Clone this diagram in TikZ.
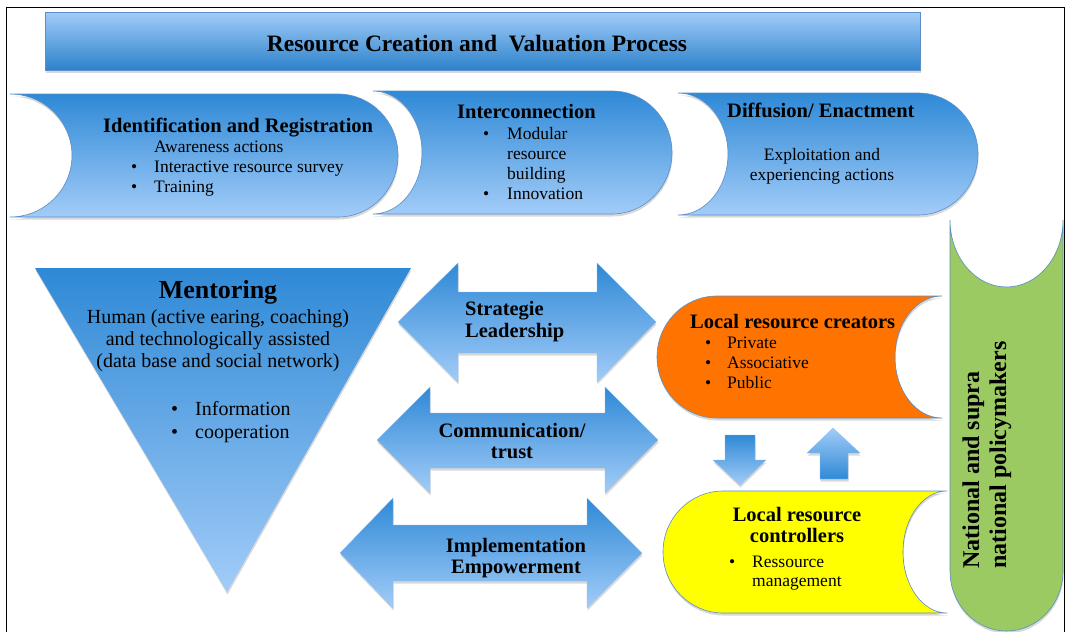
\documentclass[tikz,border=0pt]{standalone}
\usepackage{fontspec}
\setmainfont{Liberation Serif}
\usetikzlibrary{shadows}
\definecolor{bdark}{RGB}{47,137,214}
\definecolor{blight}{RGB}{162,204,248}
\definecolor{bline}{RGB}{91,142,200}
\definecolor{orng}{RGB}{255,115,0}
\definecolor{yel}{RGB}{255,255,0}
\definecolor{grn}{RGB}{155,201,98}
\tikzset{
  shd/.style={drop shadow={shadow xshift=0.5pt, shadow yshift=-2.5pt, opacity=0.3}},
  blueshape/.style={top color=bdark, bottom color=blight, draw=bline, line width=0.6pt, shd},
  titleshape/.style={top color=blight, bottom color=bdark!95!black, draw=bline, line width=0.4pt, shd},
  arrowshape/.style={top color=bdark, bottom color=blight, draw=blight!80!bdark, line width=0.3pt, shd},
  uparrowshape/.style={top color=blight, bottom color=bdark, draw=blight!80!bdark, line width=0.3pt, shd},
  orngshape/.style={fill=orng, draw=bline, line width=0.6pt, shd},
  yelshape/.style={fill=yel, draw=bline, line width=0.6pt, shd},
  grnshape/.style={fill=grn, draw=bline, line width=0.6pt, shd},
  frameline/.style={draw=black, line width=1pt},
  head/.style={font=\bfseries\fontsize{20.5}{24}\selectfont, inner sep=0pt, anchor=base west},
  item/.style={font=\fontsize{17.5}{20}\selectfont, inner sep=0pt, anchor=base west},
  mitem/.style={font=\fontsize{20}{23}\selectfont, inner sep=0pt, anchor=base west},
  mbody/.style={font=\fontsize{20}{23}\selectfont, inner sep=0pt, anchor=base},
  chead/.style={font=\bfseries\fontsize{20.5}{24}\selectfont, inner sep=0pt, anchor=base},
  citem/.style={font=\fontsize{17.5}{20}\selectfont, inner sep=0pt, anchor=base},
  vtext/.style={font=\bfseries\fontsize{24}{28}\selectfont, inner sep=0pt, anchor=base west, rotate=90},
}
\begin{document}
\begin{tikzpicture}[x=1pt,y=1pt]
\useasboundingbox (0,0) rectangle (1066,-632);
\fill[white] (0,0) rectangle (1066,-632);
% frame
\draw[frameline] (6,-632) -- (6,-7) -- (1064,-7) -- (1064,-632);

% title bar
\path[titleshape] (45,-12) rectangle (920,-70);
\node[font=\bfseries\fontsize{23.5}{26}\selectfont, inner sep=0pt, anchor=base] (title) at (477,-51) {Resource Creation and\ \ Valuation Process};

% top row shapes
\path[blueshape] (10,-94) -- (338,-94) arc[start angle=90,end angle=-90,x radius=60,y radius=61.5]
  -- (10,-217) arc[start angle=-90,end angle=90,x radius=62,y radius=61.5] -- cycle;
\path[blueshape] (373,-91) -- (612,-91) arc[start angle=90,end angle=-90,x radius=60,y radius=61.5]
  -- (373,-214) arc[start angle=-90,end angle=90,x radius=49,y radius=61.5] -- cycle;
\path[blueshape] (678,-93) -- (918,-93) arc[start angle=90,end angle=-90,x radius=60,y radius=61]
  -- (678,-215) arc[start angle=-90,end angle=90,x radius=50,y radius=61] -- cycle;

% shape 1 text
\node[head] (idh) at (103,-132) {Identification and Registration};
\node[item] (id1) at (154,-152) {Awareness actions};
\node[item] (idb2) at (131,-172) {\textbullet};
\node[item] (id2) at (154,-172) {Interactive resource survey};
\node[item] (idb3) at (131,-192) {\textbullet};
\node[item] (id3) at (154,-192) {Training};

% shape 2 text
\node[head] (ich) at (457,-118) {Interconnection};
\node[item] (icb1) at (483,-139) {\textbullet};
\node[item] (ic1) at (507,-139) {Modular};
\node[item] (ic2) at (507,-159) {resource};
\node[item] (ic3) at (507,-179) {building};
\node[item] (icb4) at (483,-199) {\textbullet};
\node[item] (ic4) at (507,-199) {Innovation};

% shape 3 text
\node[head] (dfh) at (727,-117) {Diffusion/ Enactment};
\node[citem] (df1) at (822,-160) {Exploitation and};
\node[citem] (df2) at (822,-180) {experiencing actions};

% mentoring triangle
\path[blueshape, draw=none] (35,-268) -- (411,-268) -- (227,-592) -- cycle;
\node[font=\bfseries\fontsize{26}{30}\selectfont, inner sep=0pt, anchor=base] (mh) at (218,-298) {Mentoring};
\node[mbody] (m1) at (218,-323) {Human (active earing, coaching)};
\node[mbody] (m2) at (218,-345) {and technologically assisted};
\node[mbody] (m3) at (218,-367) {(data base and social network)};
\node[mitem] (mb1) at (171,-415) {\textbullet};
\node[mitem] (mi1) at (195,-415) {Information};
\node[mitem] (mb2) at (171,-438) {\textbullet};
\node[mitem] (mi2) at (195,-438) {cooperation};

% double arrows
\path[arrowshape] (398,-322) -- (458,-263) -- (458,-292) -- (597,-292) -- (597,-263) -- (656,-322)
  -- (597,-382) -- (597,-353) -- (458,-353) -- (458,-382) -- cycle;
\node[head] (a1a) at (465,-315) {Strategie};
\node[head] (a1b) at (465,-337) {Leadership};

\path[arrowshape] (377,-440) -- (430,-387) -- (430,-413) -- (605,-413) -- (605,-387) -- (658,-440)
  -- (605,-493) -- (605,-468) -- (430,-468) -- (430,-493) -- cycle;
\node[chead] (a2a) at (512,-437) {Communication/};
\node[chead] (a2b) at (512,-458) {trust};

\path[arrowshape] (340,-553) -- (393,-498) -- (393,-525) -- (587,-525) -- (587,-498) -- (642,-553)
  -- (587,-608) -- (587,-581) -- (393,-581) -- (393,-608) -- cycle;
\node[chead] (a3a) at (516,-552) {Implementation};
\node[chead] (a3b) at (516,-573) {Empowerment};

% orange shape
\path[orngshape] (717,-296) -- (942,-296) arc[start angle=90,end angle=270,x radius=47,y radius=61]
  -- (717,-418) arc[start angle=270,end angle=90,x radius=60,y radius=61] -- cycle;
\node[head] (lch) at (690,-328) {Local resource creators};
\node[item] (lcb1) at (705,-348) {\textbullet};
\node[item] (lc1) at (727,-348) {Private};
\node[item] (lcb2) at (705,-368) {\textbullet};
\node[item] (lc2) at (727,-368) {Associative};
\node[item] (lcb3) at (705,-388) {\textbullet};
\node[item] (lc3) at (727,-388) {Public};

% small vertical arrows
\path[arrowshape] (725,-435) -- (755,-435) -- (755,-460) -- (766,-460) -- (740,-485) -- (713,-460) -- (725,-460) -- cycle;
\path[uparrowshape] (833,-428) -- (860,-453) -- (848,-453) -- (848,-479) -- (820,-479) -- (820,-453) -- (807,-453) -- cycle;

% yellow shape
\path[yelshape] (723,-491) -- (947,-491) arc[start angle=90,end angle=270,x radius=44,y radius=61]
  -- (723,-613) arc[start angle=270,end angle=90,x radius=60,y radius=61] -- cycle;
\node[chead] (lrh1) at (797,-521) {Local resource};
\node[chead] (lrh2) at (797,-542) {controllers};
\node[item] (lrb1) at (729,-567) {\textbullet};
\node[item] (lr1) at (752,-567) {Ressource};
\node[item] (lr2) at (752,-586) {management};

% green vertical shape
\path[grnshape] (950,-220) arc[start angle=180,end angle=360,x radius=56.5,y radius=67]
  -- (1063,-571) arc[start angle=0,end angle=-180,x radius=56.5,y radius=60] -- cycle;
\node[vtext] (gn1) at (979,-569) {National and supra};
\node[vtext] (gn2) at (1006,-569) {national policymakers};
\end{tikzpicture}
\end{document}
